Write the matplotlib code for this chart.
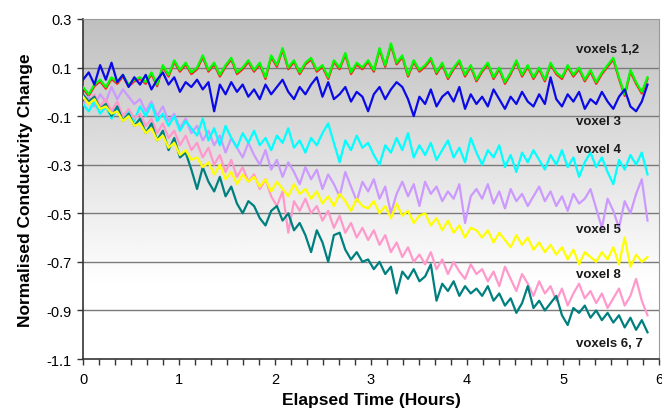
import numpy as np
import matplotlib
matplotlib.use("Agg")
import matplotlib.pyplot as plt
import matplotlib.transforms as mtransforms
from matplotlib.ticker import MultipleLocator

plt.rcParams['font.family'] = ['Liberation Sans', 'DejaVu Sans']

# sample times (hours) - 100 readings over the run
hours = np.linspace(0, 5.88, 100)

# normalised conductivity change for each voxel
voxels_1_2 = [
    0.02, -0.01, 0.03, 0.05, 0.02, 0.06, 0.04, 0.07, 0.03, 0.05,
    0.06, 0.04, 0.08, 0.03, 0.11, 0.07, 0.13, 0.09, 0.12, 0.08,
    0.10, 0.15, 0.09, 0.12, 0.07, 0.11, 0.14, 0.08, 0.10, 0.13,
    0.09, 0.12, 0.06, 0.15, 0.11, 0.18, 0.10, 0.13, 0.08, 0.12,
    0.14, 0.09, 0.11, 0.06, 0.13, 0.10, 0.16, 0.08, 0.12, 0.10,
    0.13, 0.09, 0.18, 0.11, 0.20, 0.12, 0.15, 0.07, 0.13, 0.09,
    0.11, 0.14, 0.08, 0.12, 0.06, 0.10, 0.13, 0.07, 0.11, 0.05,
    0.09, 0.12, 0.06, 0.10, 0.04, 0.08, 0.13, 0.07, 0.11, 0.06,
    0.10, 0.05, 0.12, 0.08, 0.06, 0.11, 0.07, 0.10, 0.05, 0.09,
    0.04, 0.08, 0.11, 0.14, 0.06, -0.01, 0.09, 0.04, 0.00, 0.06,
]
voxel_3 = [
    0.05, 0.08, 0.03, 0.11, 0.05, 0.12, 0.04, 0.07, 0.02, 0.06,
    0.03, 0.07, 0.01, 0.05, 0.08, 0.03, 0.06, 0.00, 0.04, 0.02,
    0.05, 0.01, 0.04, -0.08, 0.03, -0.01, 0.04, 0.00, 0.03, -0.02,
    0.01, -0.03, 0.03, -0.01, 0.02, 0.05, 0.00, -0.03, 0.02, -0.01,
    0.03, 0.06, -0.02, 0.04, -0.03, -0.01, 0.02, -0.04, 0.00, -0.02,
    -0.08, -0.01, 0.02, -0.03, 0.01, 0.04, 0.02, -0.03, -0.10, -0.02,
    -0.05, 0.01, -0.06, -0.02, 0.00, -0.04, 0.02, -0.07, -0.01, -0.05,
    -0.02, -0.06, 0.01, -0.03, -0.07, -0.02, -0.05, 0.00, -0.04, -0.06,
    -0.01, -0.05, 0.06, -0.03, -0.06, -0.01, -0.04, 0.00, -0.07, -0.03,
    -0.05, 0.00, -0.04, -0.07, -0.02, 0.01, -0.06, -0.08, -0.04, 0.03,
]
voxel_4 = [
    -0.05, -0.08, -0.04, -0.09, -0.06, -0.11, -0.07, -0.10, -0.08, -0.12,
    -0.06, -0.10, -0.05, -0.12, -0.09, -0.14, -0.10, -0.16, -0.12, -0.15,
    -0.18, -0.11, -0.20, -0.15, -0.22, -0.14, -0.19, -0.23, -0.17, -0.21,
    -0.16, -0.22, -0.19, -0.24, -0.18, -0.21, -0.15, -0.23, -0.20, -0.25,
    -0.19, -0.22, -0.17, -0.13, -0.21, -0.29, -0.20, -0.24, -0.18, -0.23,
    -0.21, -0.26, -0.30, -0.22, -0.25, -0.19, -0.24, -0.17, -0.27, -0.22,
    -0.26, -0.21, -0.28, -0.24, -0.20, -0.27, -0.23, -0.29, -0.19, -0.25,
    -0.30, -0.24, -0.27, -0.22, -0.31, -0.26, -0.33, -0.25, -0.29, -0.24,
    -0.28, -0.32, -0.26, -0.30, -0.24, -0.31, -0.27, -0.35, -0.29, -0.25,
    -0.31, -0.27, -0.33, -0.38, -0.28, -0.32, -0.26, -0.30, -0.25, -0.34,
]
voxel_unlabelled = [
    -0.05, -0.02, -0.06, -0.01, -0.04, 0.02, -0.03, 0.01, -0.02, -0.05,
    -0.03, -0.08, -0.04, -0.10, -0.06, -0.12, -0.09, -0.15, -0.11, -0.17,
    -0.14, -0.20, -0.16, -0.22, -0.18, -0.25, -0.19, -0.23, -0.27, -0.21,
    -0.26, -0.30, -0.24, -0.32, -0.28, -0.35, -0.29, -0.33, -0.38, -0.31,
    -0.36, -0.32, -0.40, -0.34, -0.38, -0.43, -0.33, -0.39, -0.45, -0.37,
    -0.41, -0.36, -0.44, -0.39, -0.50, -0.42, -0.37, -0.43, -0.38, -0.47,
    -0.37, -0.42, -0.39, -0.45, -0.41, -0.44, -0.38, -0.54, -0.43, -0.40,
    -0.44, -0.38, -0.46, -0.41, -0.48, -0.40, -0.45, -0.42, -0.47, -0.43,
    -0.39, -0.45, -0.41, -0.47, -0.43, -0.49, -0.42, -0.46, -0.44, -0.40,
    -0.48, -0.56, -0.44, -0.49, -0.56, -0.45, -0.50, -0.42, -0.36, -0.53,
]
voxel_5 = [
    -0.02, -0.05, -0.03, -0.07, -0.06, -0.09, -0.08, -0.12, -0.10, -0.14,
    -0.13, -0.17, -0.15, -0.20, -0.18, -0.23, -0.21, -0.26, -0.24, -0.28,
    -0.27, -0.31, -0.29, -0.34, -0.30, -0.36, -0.33, -0.38, -0.34, -0.37,
    -0.35, -0.39, -0.36, -0.41, -0.37, -0.40, -0.43, -0.38, -0.42, -0.40,
    -0.44, -0.41, -0.46, -0.43, -0.47, -0.42, -0.45, -0.49, -0.44, -0.47,
    -0.48, -0.45, -0.50, -0.47, -0.52, -0.46, -0.51, -0.49, -0.54, -0.51,
    -0.50, -0.55, -0.52, -0.57, -0.53, -0.58, -0.55, -0.60, -0.56, -0.57,
    -0.60, -0.57, -0.62, -0.58, -0.61, -0.64, -0.59, -0.63, -0.60, -0.65,
    -0.62, -0.66, -0.63, -0.67, -0.64, -0.69, -0.65, -0.71, -0.66, -0.68,
    -0.70, -0.66, -0.69, -0.64, -0.71, -0.60, -0.72, -0.67, -0.70, -0.68,
]
voxel_8 = [
    -0.02, -0.05, -0.01, -0.06, -0.03, -0.08, -0.04, -0.10, -0.07, -0.11,
    -0.09, -0.14, -0.11, -0.17, -0.13, -0.19, -0.16, -0.22, -0.18, -0.24,
    -0.21, -0.27, -0.23, -0.30, -0.26, -0.33, -0.28, -0.35, -0.31, -0.37,
    -0.34, -0.40, -0.36, -0.43, -0.47, -0.41, -0.58, -0.45, -0.49, -0.44,
    -0.50, -0.47, -0.53, -0.49, -0.56, -0.51, -0.58, -0.54, -0.60, -0.56,
    -0.61, -0.57, -0.63, -0.59, -0.66, -0.62, -0.68, -0.64, -0.70, -0.67,
    -0.71, -0.66, -0.73, -0.69, -0.75, -0.70, -0.74, -0.77, -0.71, -0.75,
    -0.73, -0.78, -0.74, -0.80, -0.72, -0.77, -0.82, -0.75, -0.79, -0.84,
    -0.78, -0.83, -0.80, -0.86, -0.81, -0.88, -0.83, -0.79, -0.85, -0.82,
    -0.87, -0.83, -0.89, -0.85, -0.81, -0.88, -0.84, -0.77, -0.86, -0.92,
]
voxels_6_7 = [
    -0.01, -0.04, -0.02, -0.07, -0.05, -0.10, -0.06, -0.12, -0.09, -0.14,
    -0.11, -0.17, -0.13, -0.20, -0.16, -0.24, -0.19, -0.27, -0.25, -0.32,
    -0.40, -0.31, -0.37, -0.41, -0.35, -0.43, -0.39, -0.46, -0.50, -0.45,
    -0.47, -0.52, -0.55, -0.49, -0.47, -0.53, -0.50, -0.57, -0.54, -0.59,
    -0.66, -0.57, -0.62, -0.70, -0.59, -0.58, -0.65, -0.69, -0.66, -0.70,
    -0.69, -0.73, -0.70, -0.75, -0.72, -0.83, -0.74, -0.77, -0.73, -0.78,
    -0.76, -0.71, -0.86, -0.79, -0.82, -0.78, -0.84, -0.80, -0.83, -0.81,
    -0.84, -0.80, -0.86, -0.83, -0.88, -0.85, -0.91, -0.87, -0.80, -0.89,
    -0.86, -0.90, -0.87, -0.84, -0.92, -0.96, -0.89, -0.91, -0.88, -0.93,
    -0.90, -0.94, -0.91, -0.95, -0.92, -0.97, -0.93, -0.98, -0.94, -0.99,
]

y_ticks = [0.3, 0.1, -0.1, -0.3, -0.5, -0.7, -0.9, -1.1]

fig = plt.figure(figsize=(6.62, 4.14), dpi=100)
ax = fig.add_axes([0.1254, 0.1304, 0.8701, 0.8213])
ax.set_xlim(0, 6)
ax.set_ylim(-1.1, 0.3)

# grey-to-white background gradient
grad = np.clip(np.linspace(0.75, 1.07, 256), 0, 1).reshape(-1, 1)
ax.imshow(grad, cmap='gray', vmin=0, vmax=1, aspect='auto',
          extent=[0, 1, 0, 1], transform=ax.transAxes, zorder=0,
          origin='upper', interpolation='bicubic')

for yv in y_ticks[1:-1]:
    ax.axhline(yv, color='#7a7a7a', lw=1.0, zorder=1)

# red line (voxel 1) sits just under the green one
shift = mtransforms.ScaledTranslation(0, -1.2 / 72, fig.dpi_scale_trans)
ax.plot(hours, voxels_1_2, color='#ff2020', lw=1.6, zorder=2,
        transform=ax.transData + shift)
ax.plot(hours, voxels_1_2, color='#00ff00', lw=1.6, zorder=3)
ax.plot(hours, voxel_3, color='#0a0ae6', lw=1.6, zorder=4)
ax.plot(hours, voxel_unlabelled, color='#cc99ff', lw=1.6, zorder=3)
ax.plot(hours, voxel_4, color='#00ffff', lw=1.6, zorder=3)
ax.plot(hours, voxel_8, color='#ff99cc', lw=1.6, zorder=4)
ax.plot(hours, voxels_6_7, color='#007f7f', lw=1.6, zorder=5)
ax.plot(hours, voxel_5, color='#ffff00', lw=1.6, zorder=6)

labels = [("voxels 1,2", 0.176), ("voxel 3", -0.12), ("voxel 4", -0.235),
          ("voxel 5", -0.565), ("voxel 8", -0.75), ("voxels 6, 7", -1.035)]
for txt, yv in labels:
    ax.text(5.13, yv, txt, fontsize=9.5, fontweight='bold', color='#1a1a1a',
            va='center', ha='left', zorder=7)

ax.set_yticks(y_ticks)
ax.set_yticklabels([f"{v:.1f}" for v in y_ticks])
ax.xaxis.set_major_locator(MultipleLocator(1))
ax.xaxis.set_minor_locator(MultipleLocator(1 / 6))
ax.tick_params(axis='both', which='both', direction='out', length=4,
               width=1, color='#333333', labelsize=10.5, pad=4)
ax.tick_params(axis='x', pad=5)

for side in ['top', 'right']:
    ax.spines[side].set_color('#9a9a9a')
for side in ['left', 'bottom']:
    ax.spines[side].set_color('#333333')
    ax.spines[side].set_linewidth(1.2)

ax.set_xlabel("Elapsed Time (Hours)", fontsize=12.5, fontweight='bold', labelpad=5)
ax.set_ylabel("Normalised Conductivity Change", fontsize=12.5, fontweight='bold',
              labelpad=10)

fig.savefig("out.png", dpi=100)
